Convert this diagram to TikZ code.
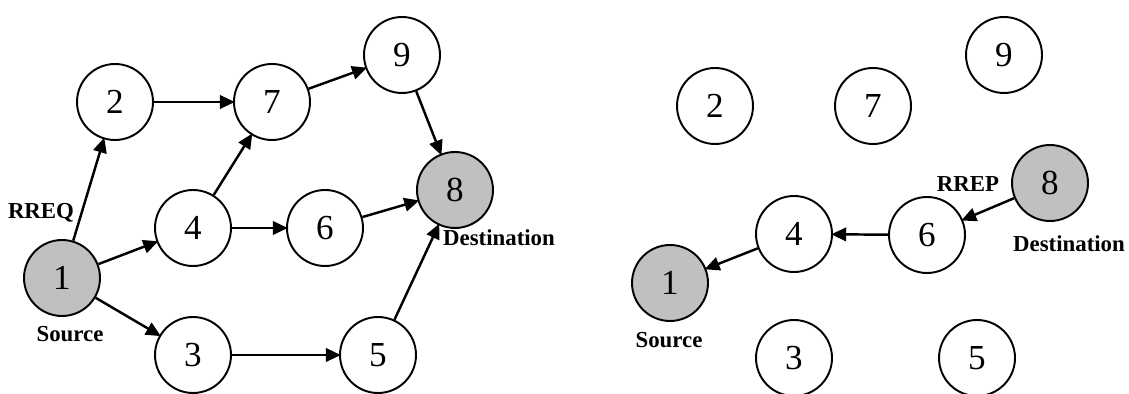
\documentclass[tikz,border=0pt]{standalone}
\usepackage{fontspec}
\setmainfont{Liberation Serif}
\usetikzlibrary{arrows.meta,positioning}
\definecolor{nodegray}{RGB}{192,192,192}

\begin{document}
\begin{tikzpicture}[
            x=0.02cm, y=-0.02cm,
            host/.style={
                    circle, draw=black, fill=white, line width=1.1pt,
                    minimum size=1.52cm, inner sep=0pt,
                    font=\fontsize{20}{22}\selectfont
                },
            endpoint/.style={host, fill=nodegray},
            tag/.style={font=\fontsize{13}{15}\selectfont\bfseries},
            arr/.style={-{Triangle[length=0.3cm, width=0.27cm]}, line width=1.4pt, shorten >=-1pt}
            ]
            \useasboundingbox (0,0) rectangle (1129,394);

            % route request flooded from the source
            \node[endpoint] (l1) at (62,278) {1};
            \node[host] (l2) at (115,102) {2};
            \node[host] (l3) at (193,355) {3};
            \node[host] (l4) at (193,228) {4};
            \node[host] (l5) at (378,355) {5};
            \node[host] (l6) at (325,228) {6};
            \node[host] (l7) at (272,102) {7};
            \node[endpoint] (l8) at (455,190) {8};
            \node[host] (l9) at (402,55) {9};

            \node[tag] (rreq) at (41,213) {RREQ};
            \node[tag] (lsrc) at (70,334) {Source};
            \node[tag] (ldst) at (499,238) {Destination};

            \draw[arr] (l1) -- (l2);
            \draw[arr] (l1) -- (l4);
            \draw[arr] (l1) -- (l3);
            \draw[arr] (l2) -- (l7);
            \draw[arr] (l4) -- (l7);
            \draw[arr] (l4) -- (l6);
            \draw[arr] (l7) -- (l9);
            \draw[arr] (l9) -- (l8);
            \draw[arr] (l6) -- (l8);
            \draw[arr] (l3) -- (l5);
            \draw[arr] (l5) -- (l8);

            % route reply sent back along the reverse path
            \node[endpoint] (r1) at (670,283) {1};
            \node[host] (r2) at (715,106) {2};
            \node[host] (r3) at (794,358) {3};
            \node[host] (r4) at (794,234) {4};
            \node[host] (r5) at (977,358) {5};
            \node[host] (r6) at (927,235) {6};
            \node[host] (r7) at (873,106) {7};
            \node[endpoint] (r8) at (1050,183) {8};
            \node[host] (r9) at (1004,55) {9};

            \node[tag] (rrep) at (968,184) {RREP};
            \node[tag] (rsrc) at (669,340) {Source};
            \node[tag] (rdst) at (1069,244) {Destination};

            \draw[arr] (r8) -- (r6);
            \draw[arr] (r6) -- (r4);
            \draw[arr] (r4) -- (r1);
        \end{tikzpicture}
\end{document}
